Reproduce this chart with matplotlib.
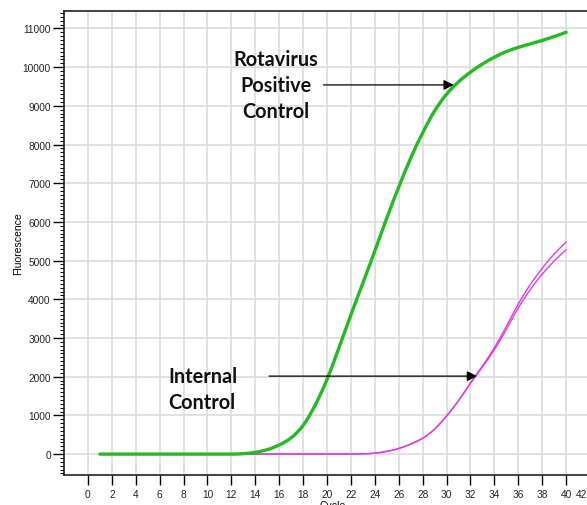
import matplotlib
matplotlib.use("Agg")
import numpy as np
import matplotlib.pyplot as plt
from matplotlib.ticker import MultipleLocator
from matplotlib.path import Path
from matplotlib.patches import PathPatch

cycles = list(range(1, 41))
rotavirus = [0, 0, 0, 0, 0, 0, 0, 0, 0, 0, 0, 0, 10, 45, 115, 235, 420, 740, 1260, 1930,
             2750, 3600, 4420, 5250, 6100, 6900, 7650, 8300, 8870, 9300,
             9620, 9870, 10080, 10256, 10400, 10510, 10600, 10690, 10790, 10900]
internal_a = [0] * 22 + [5, 25, 70, 145, 260, 410, 645, 985,
                         1380, 1840, 2280, 2750, 3300, 3880, 4380, 4800, 5170, 5480]
internal_b = [0] * 22 + [5, 25, 70, 145, 260, 410, 645, 985,
                         1380, 1830, 2250, 2700, 3220, 3780, 4250, 4650, 4990, 5280]

x_ticks = list(range(0, 43, 2))
y_ticks = list(range(0, 11001, 1000))


def smooth_path(x, y):
    """Monotone cubic (Fritsch-Carlson) Bezier path through the data points."""
    x = np.asarray(x, float)
    y = np.asarray(y, float)
    h = np.diff(x)
    d = np.diff(y) / h
    m = np.zeros_like(y)
    m[0], m[-1] = d[0], d[-1]
    for k in range(1, len(x) - 1):
        if d[k - 1] * d[k] <= 0:
            m[k] = 0.0
        else:
            w1 = 2 * h[k] + h[k - 1]
            w2 = h[k] + 2 * h[k - 1]
            m[k] = (w1 + w2) / (w1 / d[k - 1] + w2 / d[k])
    verts = [(x[0], y[0])]
    codes = [Path.MOVETO]
    for k in range(len(x) - 1):
        verts += [(x[k] + h[k] / 3, y[k] + m[k] * h[k] / 3),
                  (x[k + 1] - h[k] / 3, y[k + 1] - m[k + 1] * h[k] / 3),
                  (x[k + 1], y[k + 1])]
        codes += [Path.CURVE4] * 3
    return Path(verts, codes)


W, H = 587, 506
fig = plt.figure(figsize=(W / 100, H / 100), dpi=100)
left, right, top, bottom = 64, 602, 12, 476
ax = fig.add_axes([left / W, 1 - bottom / H, (right - left) / W, (bottom - top) / H])

ax.set_xlim(-2, 43)
ax.set_ylim(-540, 11450)
ax.set_xticks(x_ticks)
ax.set_xticklabels([str(t) if t != 42 else "" for t in x_ticks])
ax.set_yticks(y_ticks)
ax.yaxis.set_minor_locator(MultipleLocator(100))
ax.grid(True, which="major", color="#dcdcdc", linewidth=1.2)
ax.set_axisbelow(True)

for series, col, lw in [(internal_a, "#e23be6", 1.0), (internal_b, "#e23be6", 1.0),
                        (rotavirus, "#22bb22", 2.4)]:
    ax.add_patch(PathPatch(smooth_path(cycles, series), fill=False, edgecolor=col,
                           linewidth=lw, capstyle="round", joinstyle="round"))

for lab in ax.get_xticklabels() + ax.get_yticklabels():
    lab.set_fontfamily("Liberation Sans")
    lab.set_fontsize(7.3)
    lab.set_color("#222222")
# last x tick label, pulled inside the visible area as in the original
ax.annotate(str(x_ticks[-1]), xy=(x_ticks[-1], 0), xycoords=ax.get_xaxis_transform(),
            xytext=(-2.3, -10), textcoords="offset points", ha="right", va="top",
            fontfamily="Liberation Sans", fontsize=7.3, color="#222222",
            annotation_clip=False)
ax.tick_params(axis="x", which="major", length=7, width=1, direction="out", pad=3)
ax.tick_params(axis="y", which="major", length=8, width=1, direction="out", pad=1.5)
ax.tick_params(axis="y", which="minor", length=3, width=0.8, direction="out")
for s in ax.spines.values():
    s.set_color("#222222")
    s.set_linewidth(1.2)

ax.set_xlabel("Cycle", fontfamily="Liberation Sans", fontsize=7.5, labelpad=1)
ax.set_ylabel("Fluorescence", fontfamily="Liberation Sans", fontsize=7.5, labelpad=0)

font_ann = dict(fontfamily="Lato", fontweight="bold", fontsize=14.3, color="#111111")
ax.text(15.7, 9540, "Rotavirus\nPositive\nControl", ha="center", va="center",
        linespacing=1.38, **font_ann)
ax.text(6.7, 1680, "Internal\nControl", ha="left", va="center",
        linespacing=1.38, **font_ann)
ax.annotate("", xy=(30.6, 9540), xytext=(19.7, 9540),
            arrowprops=dict(arrowstyle="-|>", color="black", lw=0.9,
                            mutation_scale=15, shrinkA=0, shrinkB=0))
ax.annotate("", xy=(32.55, 2015), xytext=(15.15, 2015),
            arrowprops=dict(arrowstyle="-|>", color="black", lw=0.9,
                            mutation_scale=15, shrinkA=0, shrinkB=0))

fig.savefig("out.png", dpi=100)
